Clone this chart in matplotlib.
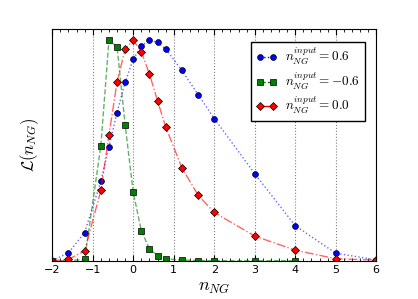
import matplotlib
matplotlib.use("Agg")
import matplotlib.pyplot as plt
from matplotlib.ticker import MultipleLocator

plt.rcParams['mathtext.fontset'] = 'cm'

x_blue = [-2.0, -1.6, -1.2, -0.8, -0.6, -0.4, -0.2, 0.0, 0.2, 0.4, 0.6, 0.8, 1.2, 1.6, 2.0, 3.0, 4.0, 5.0, 6.0]
y_blue = [0.0, 0.036, 0.128, 0.36, 0.516, 0.672, 0.81, 0.914, 0.974, 1.0, 0.991, 0.961, 0.864, 0.754, 0.645, 0.395, 0.159, 0.034, 0.004]

x_green = [-2.0, -1.6, -1.2, -0.8, -0.6, -0.4, -0.2, 0.0, 0.2, 0.4, 0.6, 0.8, 1.2, 1.6, 2.0, 3.0, 4.0]
y_green = [0.0, 0.0, 0.006, 0.522, 1.0, 0.971, 0.617, 0.31, 0.136, 0.054, 0.023, 0.009, 0.003, 0.001, 0.0, 0.0, 0.0]

x_red = [-2.0, -1.6, -1.2, -0.8, -0.6, -0.4, -0.2, 0.0, 0.2, 0.4, 0.6, 0.8, 1.2, 1.6, 2.0, 3.0, 4.0, 5.0, 6.0]
y_red = [0.0, 0.006, 0.045, 0.319, 0.57, 0.81, 0.96, 1.0, 0.948, 0.847, 0.726, 0.608, 0.422, 0.298, 0.219, 0.112, 0.048, 0.009, 0.003]

labels = [r'$n_{NG}^{input}=0.6$', r'$n_{NG}^{input}=-0.6$', r'$n_{NG}^{input}=0.0$']

fig = plt.figure(figsize=(4.18, 2.99), dpi=100)
ax = fig.add_axes([0.125, 0.128, 0.775, 0.774])

def series(x, y, color, ls, marker, label, ms):
    ax.plot(x, y, ls=ls, color=color, lw=1.0, alpha=0.6)
    ax.plot(x, y, ls='none', marker=marker, color=color, mec='black', mew=0.5, ms=ms)
    return ax.plot([], [], ls=ls, color=color, lw=1.0, marker=marker, mec='black', mew=0.5, ms=ms, label=label)[0]

h1 = series(x_blue, y_blue, 'b', ':', 'o', labels[0], 4.2)
h2 = series(x_green, y_green, 'g', '--', 's', labels[1], 4.2)
h3 = series(x_red, y_red, 'r', '-.', 'D', labels[2], 4.0)

ax.set_xlim(-2, 6)
ax.set_ylim(0, 1.05)
ax.set_yticks([])
ax.xaxis.set_major_locator(MultipleLocator(1))
ax.xaxis.set_minor_locator(MultipleLocator(0.2))
ax.tick_params(axis='x', which='both', direction='in', top=True, labelsize=8, pad=3)
ax.tick_params(axis='x', which='major', length=4)
ax.tick_params(axis='x', which='minor', length=2)
ax.grid(True, axis='x', ls=':', color='gray', lw=0.8)
ax.set_xlabel(r'$n_{NG}$', fontsize=13, labelpad=2)
ax.set_ylabel(r'$\mathcal{L}(n_{NG})$', fontsize=12, labelpad=8)

leg = ax.legend(handles=[h1, h2, h3], loc='upper right', numpoints=2, fontsize=9.5,
                fancybox=False, framealpha=1, edgecolor='black', handlelength=1.6,
                borderpad=0.35, labelspacing=0.25, handletextpad=0.6,
                bbox_to_anchor=(0.985, 0.975))
leg.get_frame().set_linewidth(1.0)

fig.savefig('out.png', dpi=100)
